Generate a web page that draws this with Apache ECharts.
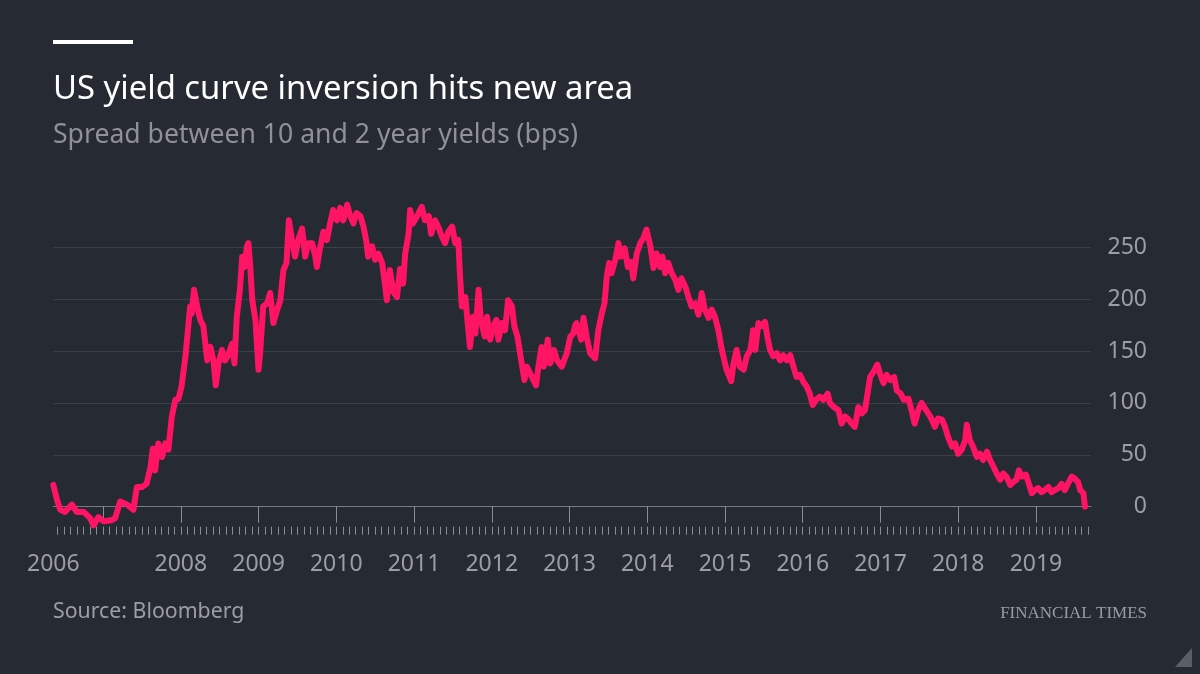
<!DOCTYPE html>
<html><head><meta charset="utf-8">
<script src="https://cdn.jsdelivr.net/npm/echarts@6/dist/echarts.min.js"></script>
<style>html,body{margin:0;padding:0;background:#262a33}#c{width:1200px;height:674px}</style>
</head><body><div id="c"></div>
<script>
// decimal-year positions of the readings
const years = [
2006.36,2006.41,2006.45,2006.51,2006.60,2006.66,2006.75,2006.835,2006.88,2006.94,
2007.006,2007.11,2007.156,2007.22,2007.31,2007.39,2007.435,2007.50,2007.56,2007.61,
2007.64,2007.67,2007.71,2007.76,2007.80,2007.84,2007.885,2007.93,2007.97,2008.01,
2008.06,2008.10,2008.12,2008.14,2008.17,2008.21,2008.25,2008.29,2008.34,2008.38,
2008.42,2008.45,2008.485,2008.53,2008.57,2008.61,2008.66,2008.69,2008.72,2008.76,
2008.79,2008.82,2008.85,2008.87,2008.89,2008.92,2008.96,2009.00,2009.02,2009.06,
2009.11,2009.15,2009.19,2009.24,2009.28,2009.32,2009.36,2009.39,2009.43,2009.47,
2009.51,2009.56,2009.60,2009.64,2009.69,2009.73,2009.75,2009.79,2009.835,2009.88,
2009.92,2009.96,2010.01,2010.05,2010.09,2010.14,2010.18,2010.22,2010.26,2010.31,
2010.35,2010.39,2010.41,2010.46,2010.50,2010.54,2010.59,2010.63,2010.65,2010.69,
2010.735,2010.78,2010.82,2010.86,2010.886,2010.93,2010.95,2010.985,2011.04,2011.10,
2011.14,2011.19,2011.22,2011.27,2011.31,2011.36,2011.40,2011.44,2011.49,2011.53,
2011.57,2011.59,2011.615,2011.66,2011.69,2011.72,2011.76,2011.79,2011.83,2011.86,
2011.91,2011.94,2011.98,2012.02,2012.06,2012.085,2012.13,2012.17,2012.21,2012.26,
2012.29,2012.33,2012.37,2012.42,2012.45,2012.49,2012.57,2012.60,2012.64,2012.67,
2012.72,2012.75,2012.80,2012.84,2012.90,2012.965,2013.01,2013.05,2013.07,2013.09,
2013.11,2013.15,2013.18,2013.22,2013.265,2013.33,2013.37,2013.415,2013.45,2013.48,
2013.51,2013.54,2013.59,2013.63,2013.66,2013.71,2013.75,2013.79,2013.82,2013.865,
2013.91,2013.95,2013.99,2014.04,2014.08,2014.12,2014.165,2014.195,2014.23,2014.27,
2014.315,2014.36,2014.40,2014.44,2014.49,2014.53,2014.57,2014.615,2014.66,2014.70,
2014.74,2014.79,2014.83,2014.87,2014.915,2014.96,2015.02,2015.08,2015.11,2015.15,
2015.19,2015.24,2015.28,2015.325,2015.345,2015.36,2015.39,2015.43,2015.47,2015.515,
2015.545,2015.58,2015.62,2015.665,2015.71,2015.75,2015.795,2015.84,2015.88,2015.92,
2015.966,2016.01,2016.05,2016.09,2016.13,2016.17,2016.22,2016.265,2016.32,2016.35,
2016.40,2016.46,2016.50,2016.545,2016.59,2016.63,2016.67,2016.715,2016.76,2016.80,
2016.84,2016.866,2016.91,2016.96,2016.99,2017.04,2017.08,2017.13,2017.175,2017.21,
2017.26,2017.30,2017.36,2017.40,2017.44,2017.49,2017.53,2017.57,2017.615,2017.66,
2017.70,2017.74,2017.79,2017.83,2017.87,2017.92,2017.96,2018.00,2018.045,2018.09,
2018.11,2018.15,2018.19,2018.24,2018.28,2018.32,2018.37,2018.41,2018.45,2018.495,
2018.54,2018.58,2018.62,2018.67,2018.71,2018.75,2018.78,2018.82,2018.87,2018.91,
2018.945,2018.99,2019.03,2019.07,2019.115,2019.16,2019.20,2019.24,2019.29,2019.33,
2019.37,2019.41,2019.46,2019.50,2019.54,2019.57,2019.61,2019.63
];
// 10y minus 2y spread, bps
const spread = [
21,6,-3,-5,2,-5,-5,-11,-18,-10,
-14,-13,-11,5,2,-3,19,19,22,38,
56,35,61,48,61,55,87,103,104,116,
145,177,193,186,209,193,180,174,141,154,
141,117,138,151,141,146,157,138,183,209,
241,231,251,254,235,199,180,132,148,193,
196,206,177,190,199,228,235,276,257,241,
257,268,241,254,254,241,231,249,265,257,
273,286,276,288,276,291,280,273,283,280,
270,254,241,251,238,244,235,212,199,228,
207,202,229,215,244,263,286,273,280,289,
276,280,263,276,270,260,254,265,270,254,
257,225,193,202,177,154,183,167,209,180,
164,183,161,174,180,161,177,170,199,193,
174,164,145,122,135,129,117,135,154,135,
161,138,151,141,135,148,164,167,174,177,
177,161,182,164,148,143,170,186,196,222,
235,225,238,254,241,249,231,236,220,244,
254,259,267,251,230,244,231,241,225,235,
225,219,209,220,212,202,193,196,185,206,
190,182,190,183,170,151,132,121,138,151,
135,132,145,151,160,170,151,177,174,178,
164,151,145,148,141,146,141,146,135,125,
127,120,116,109,98,103,106,103,109,100,
96,93,80,87,84,80,77,96,90,93,
112,125,130,137,129,119,127,122,125,112,
109,103,104,93,80,94,100,95,90,84,
77,85,84,77,67,58,61,51,55,64,
79,64,58,48,51,45,53,45,39,32,
26,32,29,21,24,26,35,29,31,22,
13,16,18,14,16,19,14,16,18,22,
16,22,29,27,24,16,13,0
];
const yTicks = [0, 50, 100, 150, 200, 250];
const xLabels = ['2006','2008','2009','2010','2011','2012','2013','2014','2015','2016','2017','2018','2019'];
const tickYears = [2007,2008,2009,2010,2011,2012,2013,2014,2015,2016,2017,2018,2019];
const xStart = 2006.36, xEnd = 2019.708;

const data = years.map((y, i) => [y, spread[i]]);
const labelValues = xLabels.map(s => Math.max(+s, xStart));
const monthTicks = [];
for (let y = 2006; y <= 2019; y++) {
  for (let m = 0; m < 12; m++) {
    const v = y + m / 12;
    if (v >= xStart && v <= xEnd) monthTicks.push(v);
  }
}

const axisGray = '#8a8d93';
const labelGray = '#9c9ea4';
const gridColors = yTicks.map(v => v === 0 ? '#7d8087' : '#3b3f48');

const chart = echarts.init(document.getElementById('c'), null, {renderer: 'canvas'});
chart.setOption({
  backgroundColor: '#262a33',
  animation: false,
  grid: {left: 53.3, right: 109, top: 247.3, bottom: 167.3, containLabel: false},
  xAxis: [{
    type: 'value', min: xStart, max: xEnd, position: 'bottom', offset: 20,
    axisLine: {show: true, lineStyle: {color: '#787b82', width: 1}},
    axisTick: {show: true, length: 16, customValues: tickYears, lineStyle: {color: axisGray, width: 1}},
    splitLine: {show: false},
    axisLabel: {
      show: true, color: labelGray, fontSize: 23, fontFamily: 'Noto Sans', margin: 26,
      customValues: labelValues, hideOverlap: false, showMinLabel: true, showMaxLabel: true,
      formatter: function (v) { return String(Math.floor(v)); }
    }
  }, {
    type: 'value', min: xStart, max: xEnd, position: 'bottom', offset: 20,
    axisLine: {show: false},
    axisTick: {show: true, length: 8, customValues: monthTicks, lineStyle: {color: axisGray, width: 1}},
    axisLabel: {show: false},
    splitLine: {show: false}
  }],
  yAxis: {
    type: 'value', position: 'right', min: 0, max: 250, interval: 50,
    axisLine: {show: false}, axisTick: {show: false},
    splitLine: {show: true, lineStyle: {color: gridColors, width: 1}},
    axisLabel: {color: labelGray, fontSize: 23, fontFamily: 'Noto Sans', align: 'right', margin: 56}
  },
  series: [{
    type: 'line', data: data, xAxisIndex: 0, showSymbol: false, symbol: 'none',
    clip: false, silent: true,
    lineStyle: {color: '#ff1464', width: 6, join: 'round', cap: 'round'}
  }],
  graphic: [
    {type: 'rect', shape: {x: 53, y: 40, width: 80, height: 4}, style: {fill: '#ffffff'}},
    {type: 'text', x: 53, y: 90, style: {text: 'US yield curve inversion hits new area', fill: '#ffffff',
      fontSize: 32.8, fontFamily: 'Noto Sans', verticalAlign: 'middle', align: 'left'}},
    {type: 'text', x: 53, y: 135, style: {text: 'Spread between 10 and 2 year yields (bps)', fill: '#8f9197',
      fontSize: 26.6, fontFamily: 'Noto Sans', verticalAlign: 'middle', align: 'left'}},
    {type: 'text', x: 53, y: 612, style: {text: 'Source: Bloomberg', fill: labelGray,
      fontSize: 21.3, fontFamily: 'Noto Sans', verticalAlign: 'middle', align: 'left'}},
    {type: 'text', x: 1147, y: 614, style: {text: 'FINANCIAL TIMES', fill: '#9a9ca1',
      fontSize: 17, fontFamily: 'Liberation Serif', verticalAlign: 'middle', align: 'right'}},
    {type: 'polygon', shape: {points: [[1175, 667], [1192, 667], [1192, 648]]}, style: {fill: '#5b5e64'}}
  ]
});
</script></body></html>
